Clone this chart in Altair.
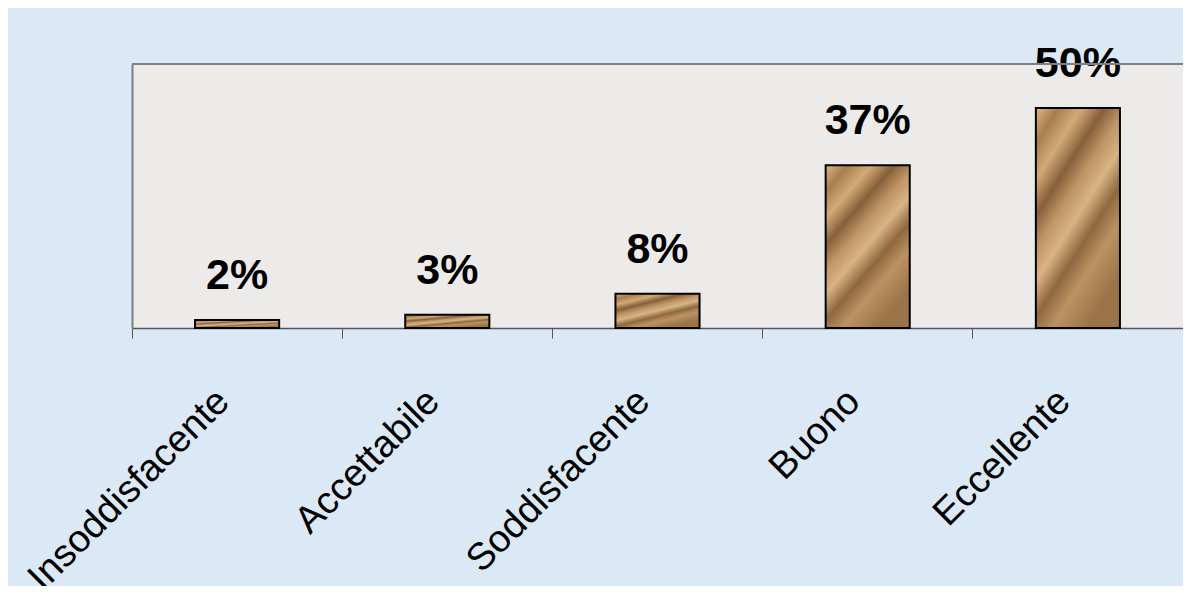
import altair as alt
import pandas as pd

categories = ["Insoddisfacente", "Accettabile", "Soddisfacente", "Buono", "Eccellente"]
values = [1.8, 3.0, 7.8, 37.0, 50.0]
labels = ["2%", "3%", "8%", "37%", "50%"]

df = pd.DataFrame({"cat": categories, "val": values, "lab": labels})

FONT = "Liberation Sans"
W = 1051
H = 264

bar_fill = alt.LinearGradient(
    gradient="linear",
    x1=0, y1=0, x2=0.6, y2=1,
    stops=[
        alt.GradientStop(color="#dcb888", offset=0.0),
        alt.GradientStop(color="#a97e4c", offset=0.12),
        alt.GradientStop(color="#d2aa78", offset=0.24),
        alt.GradientStop(color="#86603a", offset=0.36),
        alt.GradientStop(color="#c09466", offset=0.47),
        alt.GradientStop(color="#d8b483", offset=0.58),
        alt.GradientStop(color="#8e6840", offset=0.7),
        alt.GradientStop(color="#bd9262", offset=0.82),
        alt.GradientStop(color="#9c7448", offset=1.0),
    ],
)

x = alt.X(
    "cat:N",
    sort=categories,
    title=None,
    scale=alt.Scale(paddingInner=0, paddingOuter=0),
    axis=alt.Axis(
        bandPosition=0,
        labelAngle=-45,
        labelAlign="right",
        labelBaseline="top",
        labelFont=FONT,
        labelFontSize=38,
        labelColor="#000000",
        labelPadding=44,
        labelOffset=-27,
        labelLimit=500,
        labelOverlap=False,
        labelBound=False,
        tickSize=10,
        tickColor="#555555",
        tickWidth=1,
        domainColor="#555555",
        domainWidth=1.5,
        grid=False,
    ),
)
y = alt.Y(
    "val:Q",
    scale=alt.Scale(domain=[0, 60], nice=False),
    axis=alt.Axis(
        labels=False, ticks=False, grid=False, title=None,
        domainColor="#7f7f7f", domainWidth=2,
    ),
)

bars = alt.Chart(df).mark_bar(
    width=alt.RelativeBandSize(0.4),
    fill=bar_fill,
    stroke="#000000",
    strokeWidth=2,
).encode(x=x, y=y)

text = alt.Chart(df).mark_text(
    font=FONT,
    fontSize=43,
    fontWeight="bold",
    color="#000000",
    baseline="alphabetic",
    align="center",
    dy=-31,
).encode(x=alt.X("cat:N", sort=categories), y=y, text="lab:N")

top_border = alt.Chart(df).mark_rule(color="#7f7f7f", strokeWidth=2).encode(
    y=alt.value(0), x=alt.value(0), x2=alt.value(W)
)

chart = (
    alt.layer(bars, text, top_border)
    .properties(
        width=W,
        height=H,
        autosize=alt.AutoSizeParams(type="none"),
        padding={"left": 124, "top": 56, "right": 0, "bottom": 258},
        background="#dbe8f5",
    )
    .configure_view(fill="#ecebea", stroke=None)
)

chart.save("out.html", embed_options={"renderer": "svg", "actions": False})
